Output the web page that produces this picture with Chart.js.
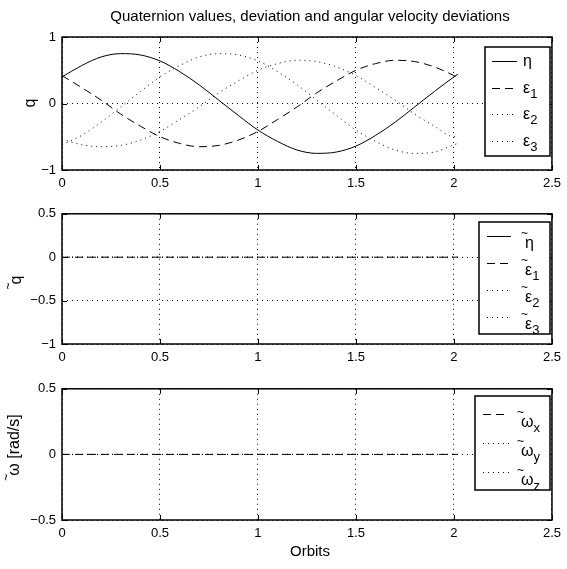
<!DOCTYPE html>
<html>
<head>
<meta charset="utf-8">
<script src="https://cdn.jsdelivr.net/npm/chart.js@4/dist/chart.umd.min.js"></script>
<style>
  body { margin: 0; background: #fff; }
  #wrap { position: relative; width: 567px; height: 569px; }
  canvas { position: absolute; left: 0; }
</style>
</head>
<body>
<div id="wrap">
  <canvas id="quat" width="567" height="200" style="top:0"></canvas>
  <canvas id="qdev" width="567" height="175" style="top:200px"></canvas>
  <canvas id="wdev" width="567" height="194" style="top:375px"></canvas>
</div>
<script>
const FONT = "'Liberation Sans', Arial, Helvetica, sans-serif";

// quaternion values
const orbits = [0, 0.1, 0.2, 0.3, 0.4, 0.5, 0.6, 0.7, 0.8, 0.9, 1.0, 1.1, 1.2, 1.3, 1.4, 1.5, 1.6, 1.7, 1.8, 1.9, 2.0, 2.02];
const eta  = [0.40, 0.57, 0.70, 0.75, 0.73, 0.64, 0.48, 0.28, 0.05, -0.18, -0.40, -0.57, -0.70, -0.75, -0.73, -0.64, -0.48, -0.28, -0.05, 0.18, 0.40, 0.44];
const eps1 = [0.42, 0.24, 0.05, -0.16, -0.34, -0.50, -0.60, -0.65, -0.63, -0.55, -0.42, -0.24, -0.05, 0.16, 0.34, 0.50, 0.60, 0.65, 0.63, 0.55, 0.42, 0.39];
const eps2 = [-0.62, -0.48, -0.28, -0.05, 0.18, 0.40, 0.57, 0.70, 0.75, 0.73, 0.64, 0.48, 0.28, 0.05, -0.18, -0.40, -0.57, -0.70, -0.75, -0.73, -0.62, -0.60];
const eps3 = [-0.54, -0.62, -0.65, -0.63, -0.55, -0.42, -0.24, -0.05, 0.16, 0.34, 0.50, 0.60, 0.65, 0.63, 0.55, 0.42, 0.24, 0.05, -0.16, -0.34, -0.50, -0.48];

// deviations (eta~ sits at 1, above the visible range)
const devOrbits = [0, 2.02];
const etaDev  = [1, 1];
const eps1Dev = [0, 0];
const eps2Dev = [0, 0];
const eps3Dev = [0, 0];
const omegaX = [0, 0];
const omegaY = [0, 0];
const omegaZ = [0, 0];

const xTicks = [0, 0.5, 1, 1.5, 2, 2.5];
const qTicks = [-1, 0, 1];
const qDevTicks = [-1, -0.5, 0, 0.5];
const omegaTicks = [-0.5, 0, 0.5];

const SOLID = [];
const DASHED = [8, 5];
const DOTTED = [1, 4];

const pts = (xs, ys) => xs.map((x, i) => ({ x: x, y: ys[i] }));
const fmt = v => (v < 0 ? "\u2212" : "") + Math.abs(v);

const series = (sym, sub, tilde, xs, ys, dash) => ({
    label: sym + (sub || ""),
    sym: sym,
    sub: sub,
    tilde: tilde,
    data: pts(xs, ys),
    borderColor: "#000",
    borderWidth: 1,
    borderDash: dash,
    pointRadius: 0,
    fill: false,
    cubicInterpolationMode: "monotone",
});

const drawSymbol = (ctx, x, y, ds) => {
    ctx.textAlign = "left";
    ctx.textBaseline = "middle";
    if (ds.tilde) {
        ctx.font = "12px " + FONT;
        ctx.fillText("~", x - 4, y - 10);
    }
    ctx.font = "16px " + FONT;
    ctx.fillText(ds.sym, x, y);
    if (ds.sub) {
        const w = ctx.measureText(ds.sym).width;
        ctx.font = "13px " + FONT;
        ctx.fillText(ds.sub, x + w, y + 6);
    }
};

const matlabFrame = {
    id: "matlabFrame",
    afterDraw(chart, args, o) {
        const { ctx, chartArea: a, scales } = chart;
        ctx.save();
        ctx.strokeStyle = "#000";
        ctx.fillStyle = "#000";

        // inward tick marks on all four sides
        ctx.lineWidth = 1;
        ctx.beginPath();
        scales.x.ticks.forEach(t => {
            const p = Math.round(scales.x.getPixelForValue(t.value)) + 0.5;
            ctx.moveTo(p, a.bottom); ctx.lineTo(p, a.bottom - 5);
            ctx.moveTo(p, a.top); ctx.lineTo(p, a.top + 5);
        });
        scales.y.ticks.forEach(t => {
            const p = Math.round(scales.y.getPixelForValue(t.value)) + 0.5;
            ctx.moveTo(a.left, p); ctx.lineTo(a.left + 5, p);
            ctx.moveTo(a.right, p); ctx.lineTo(a.right - 5, p);
        });
        ctx.stroke();
        ctx.lineWidth = 1.5;
        ctx.strokeRect(a.left, a.top, a.width, a.height);

        // legend box inside the axes
        const L = o.legend;
        ctx.fillStyle = "#fff";
        ctx.fillRect(L.x, L.y, L.w, L.h);
        ctx.strokeRect(L.x, L.y, L.w, L.h);
        ctx.fillStyle = "#000";
        let row = 0;
        chart.data.datasets.forEach(ds => {
            const y = Math.round(L.y0 + row * L.dy) + 0.5;
            ctx.lineWidth = 1;
            ctx.setLineDash(ds.borderDash);
            ctx.beginPath();
            ctx.moveTo(L.lx0, y);
            ctx.lineTo(L.lx1, y);
            ctx.stroke();
            ctx.setLineDash([]);
            drawSymbol(ctx, L.tx, y + (ds.tilde ? L.shift : 0), ds);
            row++;
        });

        // rotated y label
        const Y = o.yTitle;
        ctx.save();
        ctx.translate(Y.x, Y.y);
        ctx.rotate(-Math.PI / 2);
        ctx.font = "16px " + FONT;
        ctx.textAlign = "center";
        ctx.textBaseline = "middle";
        ctx.fillText(Y.text, 0, 0);
        if (Y.tilde) {
            const w = ctx.measureText(Y.text).width;
            ctx.font = "12px " + FONT;
            ctx.textAlign = "left";
            ctx.fillText("~", -w / 2 - 5, -8);
        }
        ctx.restore();

        // free texts (title, x label)
        (o.texts || []).forEach(t => {
            ctx.font = t.size + "px " + FONT;
            ctx.textAlign = "center";
            ctx.textBaseline = "middle";
            ctx.fillText(t.text, t.x, t.y);
        });
        ctx.restore();
    },
};

const makeChart = (id, datasets, yMin, yMax, yTicks, padTop, xHeight, frame) => {
    return new Chart(id, {
        type: "line",
        data: { datasets: datasets },
        options: {
            responsive: false,
            animation: false,
            devicePixelRatio: 1,
            events: [],
            layout: { padding: { top: padTop, right: 10, left: 0, bottom: 0 } },
            scales: {
                x: {
                    type: "linear",
                    min: 0,
                    max: 2.5,
                    afterBuildTicks: s => { s.ticks = xTicks.map(v => ({ value: v })); },
                    afterFit: s => { s.height = xHeight; },
                    ticks: { color: "#000", font: { family: FONT, size: 13 }, padding: 6, maxRotation: 0, autoSkip: false, callback: fmt },
                    grid: { color: "#000", lineWidth: 1, drawTicks: false },
                    border: { display: false, dash: DOTTED },
                },
                y: {
                    type: "linear",
                    min: yMin,
                    max: yMax,
                    afterBuildTicks: s => { s.ticks = yTicks.map(v => ({ value: v })); },
                    afterFit: s => { s.width = 62; },
                    ticks: { color: "#000", font: { family: FONT, size: 13 }, padding: 6, autoSkip: false, callback: fmt },
                    grid: { color: "#000", lineWidth: 1, drawTicks: false },
                    border: { display: false, dash: DOTTED },
                },
            },
            plugins: {
                legend: { display: false },
                tooltip: { enabled: false },
                matlabFrame: frame,
            },
        },
        plugins: [matlabFrame],
    });
};

makeChart("quat", [
    series("η", "", false, orbits, eta, SOLID),
    series("ε", "1", false, orbits, eps1, DASHED),
    series("ε", "2", false, orbits, eps2, DOTTED),
    series("ε", "3", false, orbits, eps3, DOTTED),
], -1, 1, qTicks, 37, 30, {
    legend: { x: 485, y: 47, w: 65, h: 109, y0: 61, dy: 26.7, lx0: 492, lx1: 517, tx: 523, shift: 0 },
    yTitle: { x: 31, y: 103, text: "q", tilde: false },
    texts: [{ text: "Quaternion values, deviation and angular velocity deviations", x: 310, y: 17, size: 15 }],
});

makeChart("qdev", [
    series("η", "", true, devOrbits, etaDev, SOLID),
    series("ε", "1", true, devOrbits, eps1Dev, DASHED),
    series("ε", "2", true, devOrbits, eps2Dev, DOTTED),
    series("ε", "3", true, devOrbits, eps3Dev, DOTTED),
], -1, 0.5, qDevTicks, 12, 31, {
    legend: { x: 479, y: 22, w: 71, h: 112, y0: 36, dy: 27, lx0: 487, lx1: 511, tx: 525, shift: 7 },
    yTitle: { x: 17, y: 80, text: "q", tilde: true },
});

makeChart("wdev", [
    series("ω", "x", true, devOrbits, omegaX, DASHED),
    series("ω", "y", true, devOrbits, omegaY, DOTTED),
    series("ω", "z", true, devOrbits, omegaZ, DOTTED),
], -0.5, 0.5, omegaTicks, 12, 49, {
    legend: { x: 475, y: 21, w: 75, h: 94, y0: 39, dy: 29, lx0: 483, lx1: 509, tx: 521, shift: 8 },
    yTitle: { x: 15, y: 70, text: "ω [rad/s]", tilde: true },
    texts: [{ text: "Orbits", x: 310, y: 177, size: 15 }],
});
</script>
</body>
</html>
